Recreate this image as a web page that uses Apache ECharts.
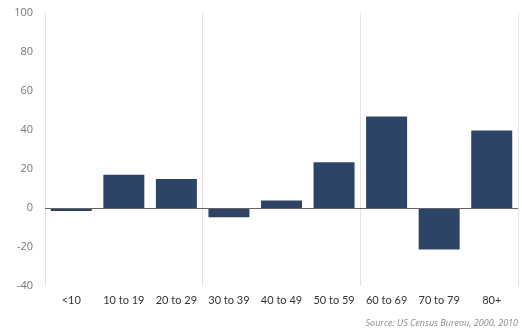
<!DOCTYPE html>
<html><head><meta charset="utf-8">
<script src="https://cdn.jsdelivr.net/npm/echarts@6/dist/echarts.min.js"></script>
<style>html,body{margin:0;padding:0;background:#fff}#c{width:522px;height:335px}</style>
</head><body><div id="c"></div>
<script>
const categories = ['<10','10 to 19','20 to 29','30 to 39','40 to 49','50 to 59','60 to 69','70 to 79','80+'];
const values = [-1.6, 17.1, 14.9, -4.8, 3.8, 23.4, 46.9, -21.3, 39.7];
const yTicks = [-40, -20, 0, 20, 40, 60, 80, 100];
const sourceText = 'Source: US Census Bureau, 2000, 2010';

const chart = echarts.init(document.getElementById('c'));
chart.setOption({
  animation: false,
  grid: {left: 45, right: 4, top: 13, bottom: 49},
  graphic: [{
    type: 'text', right: 4, top: 319,
    style: {text: sourceText, font: 'italic 9px "Open Sans", sans-serif', fill: '#8a8a8a'}
  }],
  xAxis: [{
    type: 'category', data: categories,
    axisLine: {show: false}, axisTick: {show: false},
    axisLabel: {interval: 0, color: '#333', fontSize: 11, fontFamily: 'Lato, sans-serif', margin: 9},
    splitLine: {show: false}
  }, {
    type: 'value', min: 0, max: 9, interval: 3, position: 'bottom',
    axisLine: {show: false}, axisTick: {show: false}, axisLabel: {show: false},
    splitLine: {show: true, lineStyle: {color: '#e4e4e8', width: 1}}
  }],
  yAxis: {
    type: 'value', min: yTicks[0], max: yTicks[yTicks.length-1], interval: 20,
    axisLine: {show: false}, axisTick: {show: false},
    axisLabel: {color: '#777', fontSize: 11, fontFamily: '"Open Sans", sans-serif', margin: 12},
    splitLine: {show: false}
  },
  series: [{
    type: 'bar', data: values, barWidth: '78%', xAxisIndex: 0,
    itemStyle: {color: '#2e4466'},
    markLine: {
      silent: true, symbol: 'none', label: {show: false},
      lineStyle: {color: '#666', width: 1, type: 'solid'},
      data: [{yAxis: 0}]
    },
    z: 3
  }]
});
</script></body></html>
